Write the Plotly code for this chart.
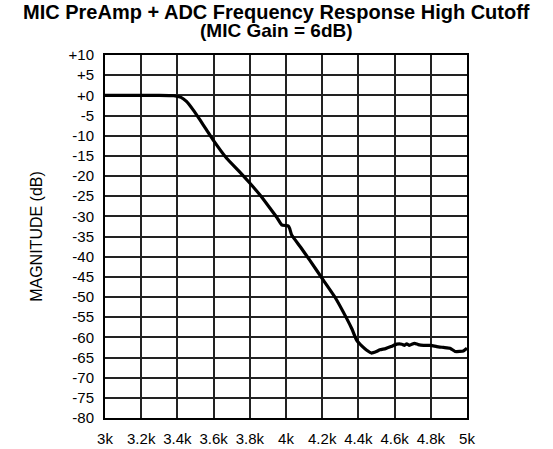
import plotly.graph_objects as go

freq_hz = [3000, 3100, 3200, 3300, 3380, 3420, 3450, 3487, 3525, 3560, 3598, 3672, 3740, 3801,
           3860, 3912, 3950, 3976, 4000, 4013, 4020, 4031, 4080, 4130, 4206, 4270, 4335, 4365,
           4390, 4420, 4446, 4473, 4500, 4519, 4550, 4580, 4612, 4640, 4655, 4667, 4680, 4695,
           4710, 4730, 4760, 4800, 4833, 4870, 4906, 4934, 4960, 4980, 5000]
mag_db = [0.0, 0.0, 0.0, 0.0, -0.1, -0.5, -1.5, -3.6, -6.1, -8.5, -11.1, -15.6, -18.8, -21.8,
          -24.9, -28.0, -30.3, -32.1, -32.3, -32.4, -33.0, -34.6, -37.6, -40.8, -45.8, -50.0,
          -55.3, -58.0, -60.7, -62.2, -63.2, -63.9, -63.5, -63.1, -62.8, -62.3, -61.7, -61.7,
          -62.0, -61.6, -62.0, -61.7, -61.5, -61.8, -62.0, -62.0, -62.3, -62.5, -62.7, -63.5,
          -63.5, -63.4, -62.7]

x_ticks = [3000 + 200 * i for i in range(11)]
x_tick_labels = ["3k", "3.2k", "3.4k", "3.6k", "3.8k", "4k", "4.2k", "4.4k", "4.6k", "4.8k", "5k"]
y_ticks = list(range(10, -81, -5))
y_tick_labels = ["+10", "+5", "+0", "-5", "-10", "-15", "-20", "-25", "-30", "-35", "-40",
                 "-45", "-50", "-55", "-60", "-65", "-70", "-75", "-80"]
title_lines = ["MIC PreAmp + ADC Frequency Response High Cutoff", "(MIC Gain = 6dB)"]

W, H = 553, 449
L, R, T, B = 105, 86, 55, 31
plot_h = H - T - B

def paper_y(px):
    return (H - B - px) / plot_h

fig = go.Figure()
fig.add_trace(go.Scatter(x=freq_hz, y=mag_db, mode="lines",
                         line=dict(color="black", width=3.2, shape="spline", smoothing=0.4),
                         showlegend=False, hoverinfo="skip"))

font_family = "Liberation Sans, Arial, sans-serif"
fig.update_layout(
    width=W, height=H,
    margin=dict(l=L, r=R, t=T, b=B, autoexpand=False),
    paper_bgcolor="white", plot_bgcolor="white",
    font=dict(family=font_family, size=15, color="black"),
    annotations=[
        dict(text="<b>%s</b>" % title_lines[0], xref="paper", yref="paper", x=0.475, y=paper_y(12),
             xanchor="center", yanchor="middle", showarrow=False,
             font=dict(family=font_family, size=20, color="black")),
        dict(text="<b>%s</b>" % title_lines[1], xref="paper", yref="paper", x=0.475, y=paper_y(30),
             xanchor="center", yanchor="middle", showarrow=False,
             font=dict(family=font_family, size=19, color="black")),
    ],
)
fig.update_xaxes(range=[3000, 5000], tickmode="array", tickvals=x_ticks, ticktext=x_tick_labels,
                 showgrid=True, gridcolor="#222", gridwidth=1.5, zeroline=False,
                 showline=True, linecolor="black", linewidth=2, mirror=True, automargin=False,
                 ticks="", ticklabelstandoff=6, tickfont=dict(size=15))
fig.update_yaxes(range=[-80, 10], tickmode="array", tickvals=y_ticks, ticktext=y_tick_labels,
                 showgrid=True, gridcolor="#222", gridwidth=1.5, zeroline=False,
                 showline=True, linecolor="black", linewidth=2, mirror=True, automargin=False,
                 ticks="", ticklabelstandoff=6, tickfont=dict(size=15),
                 title=dict(text="MAGNITUDE (dB)", font=dict(size=16), standoff=22))

fig.write_html("out.html", config={"displayModeBar": False},
               post_script="document.body.style.margin='0';")
